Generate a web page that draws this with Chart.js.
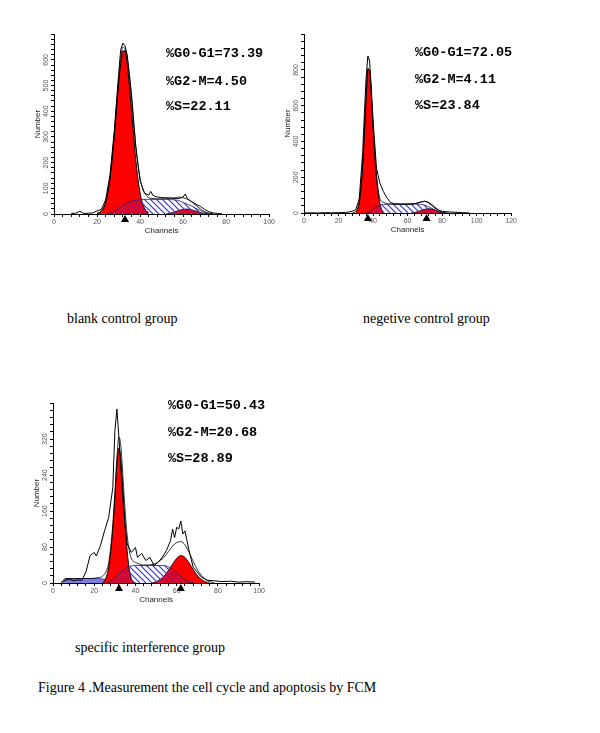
<!DOCTYPE html>
<html>
<head>
<meta charset="utf-8">
<script src="https://cdn.jsdelivr.net/npm/chart.js@4/dist/chart.umd.min.js"></script>
<style>
	body { margin: 0; background: #fff; }
	#page { position: relative; width: 600px; height: 733px; overflow: hidden; }
	canvas { position: absolute; }
	.stat { position: absolute; font-family: "Liberation Mono", "DejaVu Sans Mono", monospace; font-weight: bold; font-size: 13.5px; line-height: 13px; color: #000; white-space: pre; }
	.caption { position: absolute; font-family: "Liberation Serif", "Times New Roman", serif; font-size: 14px; line-height: 16px; color: #000; white-space: pre; }
</style>
</head>
<body>
<div id="page">
	<canvas id="blankChart" width="248" height="207" style="left:28px;top:29px"></canvas>
	<canvas id="negChart" width="240" height="206" style="left:278px;top:29px"></canvas>
	<canvas id="specChart" width="239" height="207" style="left:27px;top:398px"></canvas>

	<div class="stat" style="left:166px;top:47px">%G0-G1=73.39</div>
	<div class="stat" style="left:166px;top:75px">%G2-M=4.50</div>
	<div class="stat" style="left:166px;top:100px">%S=22.11</div>

	<div class="stat" style="left:415px;top:46px">%G0-G1=72.05</div>
	<div class="stat" style="left:415px;top:73px">%G2-M=4.11</div>
	<div class="stat" style="left:415px;top:99px">%S=23.84</div>

	<div class="stat" style="left:168px;top:399px">%G0-G1=50.43</div>
	<div class="stat" style="left:168px;top:426px">%G2-M=20.68</div>
	<div class="stat" style="left:168px;top:452px">%S=28.89</div>

	<div class="caption" style="left:67px;top:311px">blank control group</div>
	<div class="caption" style="left:363px;top:311px">negetive control group</div>
	<div class="caption" style="left:75px;top:640px">specific interference group</div>
	<div class="caption" style="left:38px;top:680px">Figure 4 .Measurement the cell cycle and apoptosis by FCM</div>
</div>
<script>
// blank control group
const blankHistX = [8,10,12,14,16,18,20,22,24,26,28,30,31,32,33,34,36,38,40,42,44,45,46,48,50,52,54,56,58,60,61,62,64,66,68,70,72,74,76,78]
const blankHistY = [2,3,10,2,3,4,12,18,55,150,320,540,640,665,655,620,470,265,130,82,74,88,72,66,64,63,62,60,60,66,78,60,48,38,30,18,9,4,2,1]
const blankFitX = [20,22,24,26,28,30,32,34,36,38,40,42,44,46,48,50,52,54,56,58,60,62,64,66,68,70,72,74]
const blankFitY = [2,12,48,142,312,520,650,612,448,262,140,84,64,60,59,59,60,62,63,66,63,57,47,33,20,9,3,1]
const blankG1X = [20,22,24,26,28,30,31,32,33,34,36,38,40,42,44]
const blankG1Y = [2,11,45,136,303,506,585,635,635,585,406,211,82,23,5]
const blankSX = [24,26,28,30,32,34,36,38,40,42,44,46,48,50,52,54,56,58,60,62,64,66,68,70,72,74]
const blankSY = [0,4,12,22,33,43,50,54,56,57,57,57,57,57,57,56,55,52,45,38,31,22,14,7,2,0]
const blankG2X = [52,54,56,58,60,62,64,66,68,70,72]
const blankG2Y = [0,3,8,14,18,19,16,11,6,2,0]
const blankPeaks = [33]

// negetive control group
const negHistX = [0,4,8,12,16,20,24,26,28,30,32,34,35,36,37,38,39,40,42,44,46,48,50,52,56,60,64,66,68,70,72,74,76,78,80,84,88,92,96]
const negHistY = [0,1,0,2,1,2,3,5,10,18,80,340,560,760,878,850,700,520,250,165,120,85,60,52,50,50,52,56,62,66,58,42,26,15,10,6,4,2,0]
const negFitX = [28,30,32,33,34,35,36,37,38,39,40,41,42,44,46,48,50,54,58,62,66,68,70,72,74,76,78,80,82,84]
const negFitY = [1,8,62,142,272,452,652,808,795,665,487,338,210,80,60,52,50,49,49,50,57,63,65,60,48,32,16,4,1,0]
const negG1X = [30,31,32,33,34,35,36,37,38,39,40,41,42,43,44,45,46]
const negG1Y = [5,20,60,140,270,450,650,805,790,660,480,330,200,110,50,20,5]
const negSX = [36,38,40,42,44,46,48,52,56,60,64,66,68,70,72,74,76,78,80,82]
const negSY = [0,8,22,36,45,48,49,49,49,49,49,49,48,44,36,26,16,8,2,0]
const negG2X = [62,64,66,68,70,72,74,76,78,80,82]
const negG2Y = [0,3,8,15,21,24,22,16,8,2,0]
const negPeaks = [37, 71]

// specific interference group
const specHistX = [4,6,8,10,12,14,16,18,20,21,23,25,27,29,30,31,32,33,34,35,36,38,40,41,43,45,47,49,51,53,55,57,58,59,60,61,62,63,64,65,66,68,70,72,75,78,82,86,90,94,98]
const specHistY = [2,6,8,5,7,6,25,61,68,60,83,116,146,212,337,387,322,249,179,124,87,68,79,57,66,50,57,39,46,57,72,94,120,101,124,120,138,109,116,94,72,35,24,13,6,5,3,4,2,3,2]
const specFitX = [4,6,10,14,18,22,24,26,27,28,29,30,31,32,33,34,35,36,37,38,40,42,44,46,48,50,52,54,56,58,60,62,64,66,68,70,72,74,76,78]
const specFitY = [0,10,10,10,10,12,15,28,45,80,130,200,280,325,300,230,160,105,72,55,46,42,40,40,41,44,50,58,70,82,90,92,85,68,48,30,17,8,3,1]
const specG1X = [24,25,26,27,28,29,30,31,32,33,34,35,36,37,38,39,40]
const specG1Y = [0,5,15,35,70,120,190,265,300,270,200,130,70,30,10,3,0]
const specSX = [26,28,30,32,34,36,38,40,44,48,52,54,56,58,60,62,64,66,68]
const specSY = [0,5,12,20,28,35,38,39,39,39,39,39,36,30,22,14,7,2,0]
const specG2X = [48,50,52,54,56,58,60,62,64,66,68,70,72,74,76]
const specG2Y = [0,3,8,16,28,42,55,61,57,45,30,17,8,3,0]
const specDebrisX = [5,6,10,14,18,22,24,26,28,30,34,40]
const specDebrisY = [0,10,10,10,10,10,9,8,6,4,2,0]
const specPeaks = [32, 62]

function pts(xs, ys) {
	return xs.map((x, i) => ({ x: x, y: ys[i] }))
}

function hatchPattern() {
	const c = document.createElement("canvas")
	c.width = 6
	c.height = 6
	const g = c.getContext("2d")
	g.strokeStyle = "#2f2fff"
	g.lineWidth = 1.2
	g.beginPath()
	g.moveTo(0, 0)
	g.lineTo(6, 6)
	g.moveTo(-3, 3)
	g.lineTo(3, 9)
	g.moveTo(3, -3)
	g.lineTo(9, 3)
	g.stroke()
	return g.createPattern(c, "repeat")
}

// black triangles under the x axis at the peak channels, rotated y labels
const peakMarkers = {
	id: "peakMarkers",
	afterDraw(chart, args, opts) {
		const ctx = chart.ctx
		const xs = chart.scales.x
		const ys = chart.scales.y
		const area = chart.chartArea
		ctx.save()
		ctx.fillStyle = "#000"
		for (const ch of opts.channels || []) {
			const px = xs.getPixelForValue(ch)
			ctx.beginPath()
			ctx.moveTo(px, area.bottom + 1)
			ctx.lineTo(px - 4, area.bottom + 8)
			ctx.lineTo(px + 4, area.bottom + 8)
			ctx.closePath()
			ctx.fill()
		}
		ctx.fillStyle = "#555"
		ctx.font = "7px 'Liberation Sans'"
		ctx.textAlign = "center"
		ctx.textBaseline = "middle"
		for (let v = 0; v < ys.max; v += opts.yMajor) {
			const py = ys.getPixelForValue(v)
			ctx.save()
			ctx.translate(area.left - 8, py)
			ctx.rotate(-Math.PI / 2)
			ctx.fillText(String(v), 0, 0)
			ctx.restore()
		}
		ctx.restore()
	}
}

function makeChart(id, p) {
	const hatch = hatchPattern()
	const line = { pointRadius: 0, tension: 0 }
	const smooth = { pointRadius: 0, cubicInterpolationMode: "monotone" }

	const datasets = [
		{ ...line, label: "data", data: pts(p.histX, p.histY), borderColor: "#000", borderWidth: 1, fill: false },
		{ ...smooth, label: "fit", data: pts(p.fitX, p.fitY), borderColor: "#000", borderWidth: 0.8, fill: false },
		{ ...smooth, label: "S", data: pts(p.sX, p.sY), borderColor: "#202070", borderWidth: 0.8, backgroundColor: hatch, fill: "origin" },
		{ ...smooth, label: "G0-G1", data: pts(p.g1X, p.g1Y), borderColor: "#000", borderWidth: 1, backgroundColor: "#ff0000", fill: "origin" },
		{ ...smooth, label: "G2-M", data: pts(p.g2X, p.g2Y), borderColor: "#000", borderWidth: 0.8, backgroundColor: "#ff0000", fill: "origin" }
	]
	if (p.debrisX) {
		datasets.push({ ...line, label: "debris", data: pts(p.debrisX, p.debrisY), borderColor: "#3a3aa8", borderWidth: 0.8, backgroundColor: "#7c7ce4", fill: "origin" })
	}

	const tickFont = { family: "Liberation Sans", size: 7 }

	return new Chart(id, {
		type: "line",
		data: { datasets: datasets },
		plugins: [peakMarkers],
		options: {
			responsive: false,
			animation: false,
			layout: { padding: { top: 4, right: 6, left: 5, bottom: 0 } },
			plugins: {
				legend: { display: false },
				tooltip: { enabled: false },
				peakMarkers: { channels: p.peaks, yMajor: p.yMajor }
			},
			scales: {
				x: {
					type: "linear",
					min: 0,
					max: p.xMax,
					afterFit(s) { s.height = 22 },
					border: { display: true, color: "#000", width: 1 },
					grid: { drawOnChartArea: false, drawTicks: true, tickLength: 3, color: "#000" },
					ticks: {
						stepSize: 4,
						autoSkip: false,
						maxRotation: 0,
						padding: 1,
						color: "#555",
						font: tickFont,
						callback: v => (v % 20 === 0 ? String(v) : "")
					},
					title: { display: true, text: "Channels", color: "#222", font: { family: "Liberation Sans", size: 8 }, padding: 0 }
				},
				y: {
					min: 0,
					max: p.yMax,
					afterFit(s) { s.width = 21 },
					border: { display: true, color: "#000", width: 1 },
					grid: { drawOnChartArea: false, drawTicks: true, tickLength: 3, color: "#000" },
					ticks: {
						stepSize: p.yStep,
						autoSkip: false,
						padding: 1,
						font: tickFont,
						callback: () => ""
					},
					title: { display: true, text: "Number", color: "#222", font: { family: "Liberation Sans", size: 8 }, padding: 0 }
				}
			}
		}
	})
}

makeChart("blankChart", {
	histX: blankHistX, histY: blankHistY, fitX: blankFitX, fitY: blankFitY,
	g1X: blankG1X, g1Y: blankG1Y, sX: blankSX, sY: blankSY, g2X: blankG2X, g2Y: blankG2Y,
	peaks: blankPeaks, xMax: 100, yMax: 700, yStep: 20, yMajor: 100
})

makeChart("negChart", {
	histX: negHistX, histY: negHistY, fitX: negFitX, fitY: negFitY,
	g1X: negG1X, g1Y: negG1Y, sX: negSX, sY: negSY, g2X: negG2X, g2Y: negG2Y,
	peaks: negPeaks, xMax: 120, yMax: 1000, yStep: 40, yMajor: 200
})

makeChart("specChart", {
	histX: specHistX, histY: specHistY, fitX: specFitX, fitY: specFitY,
	g1X: specG1X, g1Y: specG1Y, sX: specSX, sY: specSY, g2X: specG2X, g2Y: specG2Y,
	debrisX: specDebrisX, debrisY: specDebrisY,
	peaks: specPeaks, xMax: 100, yMax: 400, yStep: 16, yMajor: 80
})
</script>
</body>
</html>
